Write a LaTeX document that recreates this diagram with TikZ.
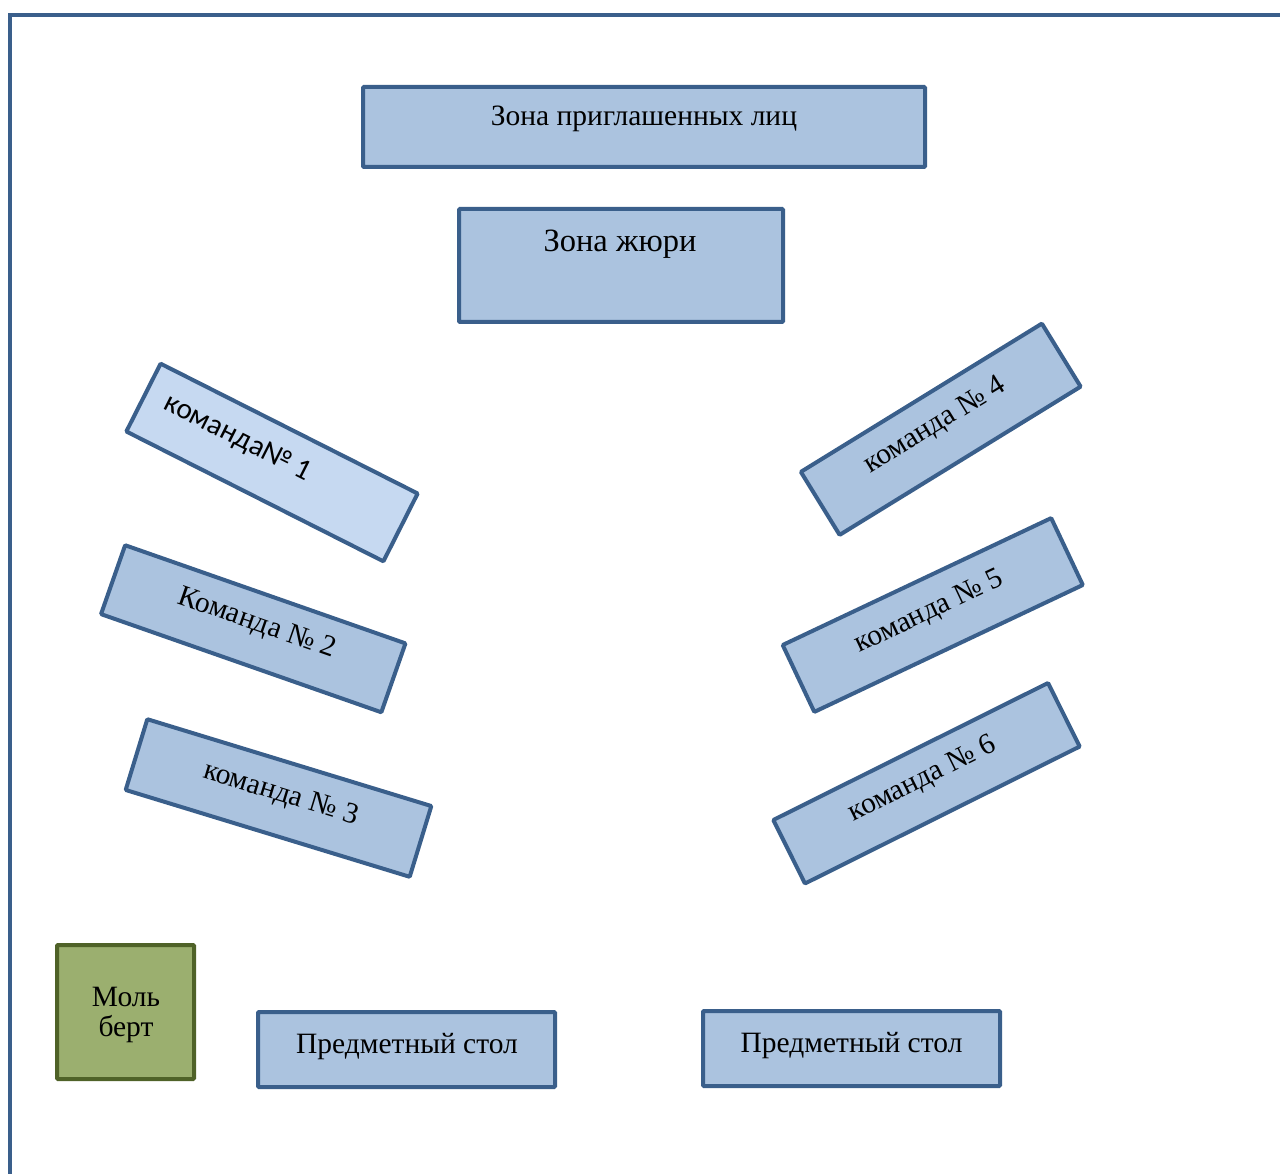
\documentclass[tikz,border=0pt]{standalone}
\usepackage{fontspec}
\setmainfont{Liberation Serif}
\newfontfamily\calfont{Carlito}
\definecolor{bord}{HTML}{3A5F8B}
\definecolor{bfill}{HTML}{ABC3DF}
\definecolor{lfill}{HTML}{C6D9F1}
\definecolor{gfill}{HTML}{9BAF6F}
\definecolor{gbord}{HTML}{4F6228}
\begin{document}
\begin{tikzpicture}[x=1pt,y=-1pt,
  zone/.style={draw=bord, line width=4pt, fill=bfill, rounded corners=1pt, inner sep=0pt},
  lbl/.style={font=\fontsize{29.5}{31}\selectfont, inner sep=0pt, text=black, anchor=base}]
\useasboundingbox (0,0) rectangle (1280,1174);
% outer frame
\coordinate (fb) at (10,1180);
\coordinate (fc) at (10,15);
\coordinate (fr) at (1285,15);
\draw[bord, line width=4pt] (fb) -- (fc) -- (fr);

% top zones
\node[zone, minimum width=562pt, minimum height=80pt] (inv) at (644,127) {};
\node[lbl] (invt) at (644,126) {Зона приглашенных лиц};
\node[zone, minimum width=324pt, minimum height=113pt] (jury) at (621,265.5) {};
\node[lbl, font=\fontsize{32.5}{34}\selectfont] (juryt) at (620,251.5) {Зона жюри};

% team 1
\begin{scope}[shift={(272,462.5)}, rotate=-26.8, transform shape]
  \node[zone, fill=lfill, minimum width=288pt, minimum height=76pt] (t1) at (0,0) {};
  \node[lbl] (t1t) at (-42,1) {\calfont команда№ 1};
\end{scope}
% team 2
\begin{scope}[shift={(253.25,628.75)}, rotate=-19.3, transform shape]
  \node[zone, minimum width=297pt, minimum height=73pt] (t2) at (0,0) {};
  \node[lbl] (t2t) at (2,1) {Команда № 2};
\end{scope}
% team 3
\begin{scope}[shift={(278.5,798)}, rotate=-17.0, transform shape]
  \node[zone, minimum width=297pt, minimum height=74pt] (t3) at (0,0) {};
  \node[lbl] (t3t) at (1,3) {команда № 3};
\end{scope}
% team 4
\begin{scope}[shift={(940.75,429.25)}, rotate=31.6, transform shape]
  \node[zone, minimum width=283pt, minimum height=74pt] (t4) at (0,0) {};
  \node[lbl] (t4t) at (-3,1) {команда № 4};
\end{scope}
% team 5
\begin{scope}[shift={(932.75,615)}, rotate=25.3, transform shape]
  \node[zone, minimum width=297pt, minimum height=74pt] (t5) at (0,0) {};
  \node[lbl] (t5t) at (-2,3) {команда № 5};
\end{scope}
% team 6
\begin{scope}[shift={(926.5,783.25)}, rotate=26.5, transform shape]
  \node[zone, minimum width=307pt, minimum height=71pt] (t6) at (0,0) {};
  \node[lbl] (t6t) at (-2,2) {команда № 6};
\end{scope}

% easel
\node[zone, draw=gbord, fill=gfill, minimum width=137pt, minimum height=134pt] (easel) at (125.5,1012) {};
\node[lbl] (easel1) at (126,1006) {Моль};
\node[lbl] (easel2) at (126,1036) {берт};

% subject tables
\node[zone, minimum width=297pt, minimum height=75pt] (tab1) at (406.5,1049.5) {};
\node[lbl] (tab1t) at (407,1053) {Предметный стол};
\node[zone, minimum width=297pt, minimum height=75pt] (tab2) at (851.5,1048.5) {};
\node[lbl] (tab2t) at (851.5,1052) {Предметный стол};
\end{tikzpicture}
\end{document}
